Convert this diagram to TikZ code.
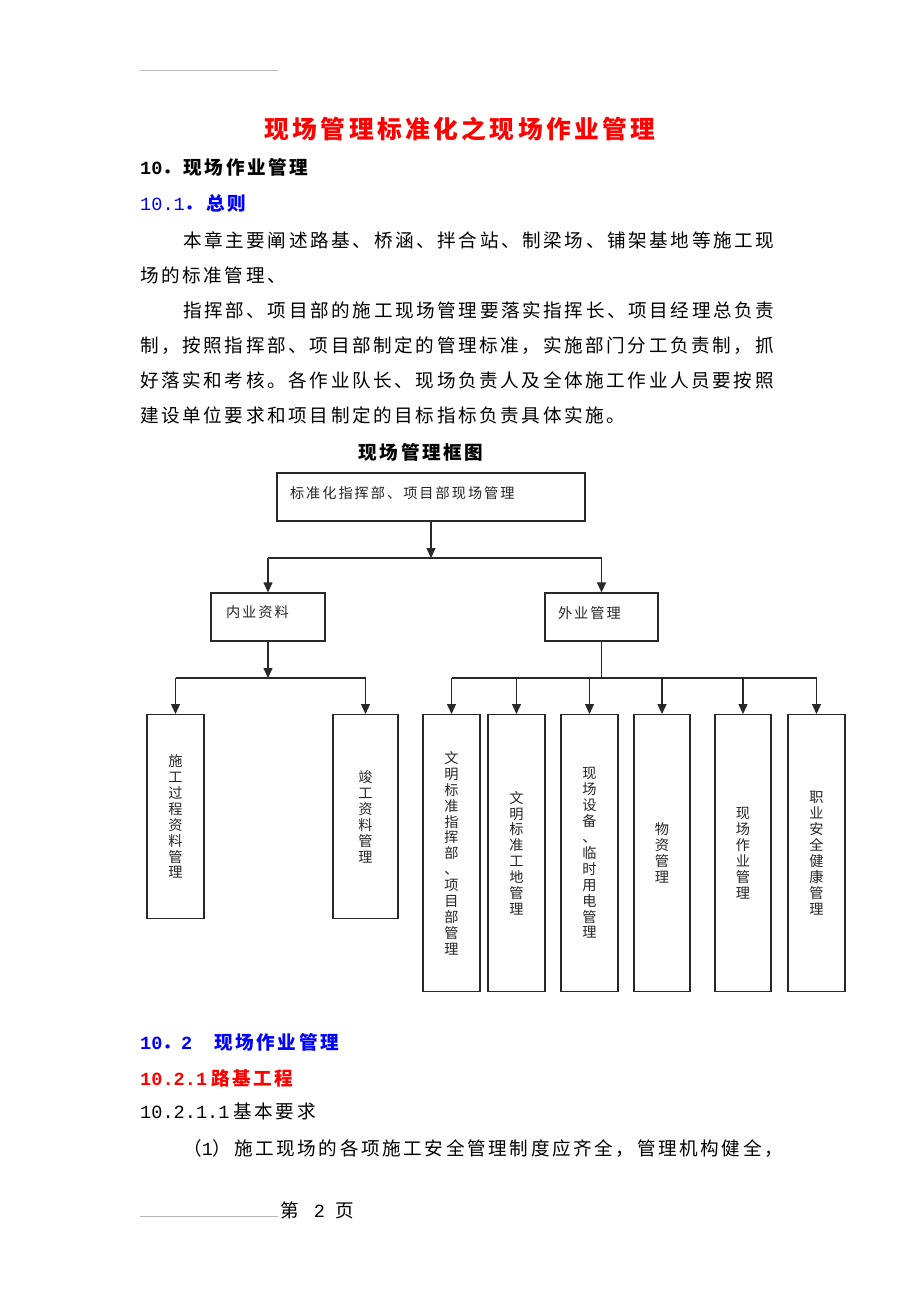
\documentclass[tikz,border=0pt]{standalone}
\usepackage{fontspec}
\setmainfont{Noto Sans CJK SC}[LetterSpace=14]
\newfontfamily\mono{Liberation Mono}
\usepackage{tikz}
\usetikzlibrary{arrows.meta}

\definecolor{titlered}{RGB}{255,0,0}
\definecolor{headblue}{RGB}{0,0,255}
\definecolor{boxline}{RGB}{40,40,40}

\tikzset{
  body/.style={anchor=base west,inner sep=0pt,font=\fontsize{18.6}{22}\selectfont},
  box/.style={draw=boxline,line width=1.3pt,inner sep=0pt,text=black!85,
    font=\fontsize{14.2}{15.9}\selectfont},
  hbox/.style={box,minimum height=48pt,align=left,text depth=10pt},
  vbox/.style={box,anchor=north,align=center},
  link/.style={draw=boxline,line width=1.3pt},
  arr/.style={link,-{Triangle[length=10pt,width=9pt]}}
}

\begin{document}
\begin{tikzpicture}[x=1pt,y=-1pt]
\fill[white] (0,0) rectangle (920,1302);
\useasboundingbox (0,0) rectangle (920,1302);

\draw[gray!55,line width=0.8pt] (140,70) -- (278,70);

\node[body,anchor=base,text=titlered,font=\fontsize{24.7}{28}\selectfont\bfseries] (title) at (460,138) {现场管理标准化之现场作业管理};
\node[body,font=\fontsize{18.6}{22}\selectfont\bfseries] (h10) at (140,174) {{\mono 10}．现场作业管理};
\node[body,text=headblue,font=\fontsize{18.6}{22}\selectfont\bfseries] (h101) at (140,210) {{\mono\mdseries 10.1}．总则};
\node[body] (p1) at (183,247) {本章主要阐述路基、桥涵、拌合站、制梁场、铺架基地等施工现};
\node[body] (p2) at (140,282) {场的标准管理、};
\node[body] (p3) at (183,317) {指挥部、项目部的施工现场管理要落实指挥长、项目经理总负责};
\node[body] (p4) at (140,352) {制，按照指挥部、项目部制定的管理标准，实施部门分工负责制，抓};
\node[body] (p5) at (140,387) {好落实和考核。各作业队长、现场负责人及全体施工作业人员要按照};
\node[body] (p6) at (140,422) {建设单位要求和项目制定的目标指标负责具体实施。};
\node[body,anchor=base,font=\fontsize{18.6}{22}\selectfont\bfseries] (chart) at (421,459) {现场管理框图};

\node[hbox,minimum width=308pt,text width=282pt] (top) at (431,497) {标准化指挥部、项目部现场管理};
\node[hbox,minimum width=114pt,text width=84pt] (nei) at (268,617) {内业资料};
\node[hbox,minimum width=113pt,text width=87pt] (wai) at (601.5,617) {外业管理};

\node[vbox,minimum width=57pt,minimum height=204pt] (n1) at (175.5,714) {施\\工\\过\\程\\资\\料\\管\\理};
\node[vbox,minimum width=65pt,minimum height=204pt] (n2) at (365.5,714) {竣\\工\\资\\料\\管\\理};
\node[vbox,minimum width=57pt,minimum height=277pt] (w1) at (451.5,714) {文\\明\\标\\准\\指\\挥\\部\\、\\项\\目\\部\\管\\理};
\node[vbox,minimum width=57pt,minimum height=277pt] (w2) at (516.5,714) {文\\明\\标\\准\\工\\地\\管\\理};
\node[vbox,minimum width=57pt,minimum height=277pt] (w3) at (589.5,714) {现\\场\\设\\备\\、\\临\\时\\用\\电\\管\\理};
\node[vbox,minimum width=56pt,minimum height=277pt] (w4) at (662,714) {物\\资\\管\\理};
\node[vbox,minimum width=56pt,minimum height=277pt] (w5) at (743,714) {现\\场\\作\\业\\管\\理};
\node[vbox,minimum width=57pt,minimum height=277pt] (w6) at (816.5,714) {职\\业\\安\\全\\健\\康\\管\\理};

\coordinate (tj) at (431,558);
\coordinate (nj) at (268,678);
\coordinate (wj) at (601.5,678);

\draw[arr] (top) -- (tj);
\draw[link] (nei.north |- tj) -- (wai.north |- tj);
\foreach \to in {nei,wai}
  \draw[arr] (\to.north |- tj) -- (\to);

\draw[arr] (nei) -- (nj);
\draw[link] (n1.north |- nj) -- (n2.north |- nj);
\foreach \to in {n1,n2}
  \draw[arr] (\to.north |- nj) -- (\to);

\draw[link] (wai) -- (wj);
\draw[link] (w1.north |- wj) -- (w6.north |- wj);
\foreach \to in {w1,w2,w3,w4,w5,w6}
  \draw[arr] (\to.north |- wj) -- (\to);

\node[body,text=headblue,font=\fontsize{18.6}{22}\selectfont\bfseries] (h102) at (140,1049) {{\mono 10}．{\mono 2}\hspace{22pt}现场作业管理};
\node[body,text=titlered,font=\fontsize{18.6}{22}\selectfont\bfseries] (h1021) at (140,1085) {{\mono 10.2.1}\hspace{4pt}路基工程};
\node[body] (h10211) at (140,1118) {{\mono 10.2.1.1}\hspace{4pt}基本要求};
\node[body] (q1) at (183,1155) {（{\mono 1}）施工现场的各项施工安全管理制度应齐全，管理机构健全，};

\draw[gray!55,line width=0.8pt] (140,1216) -- (278,1216);
\node[body] (page) at (280,1217) {第\hspace{15pt}{\mono 2}\hspace{11pt}页};
\end{tikzpicture}
\end{document}
